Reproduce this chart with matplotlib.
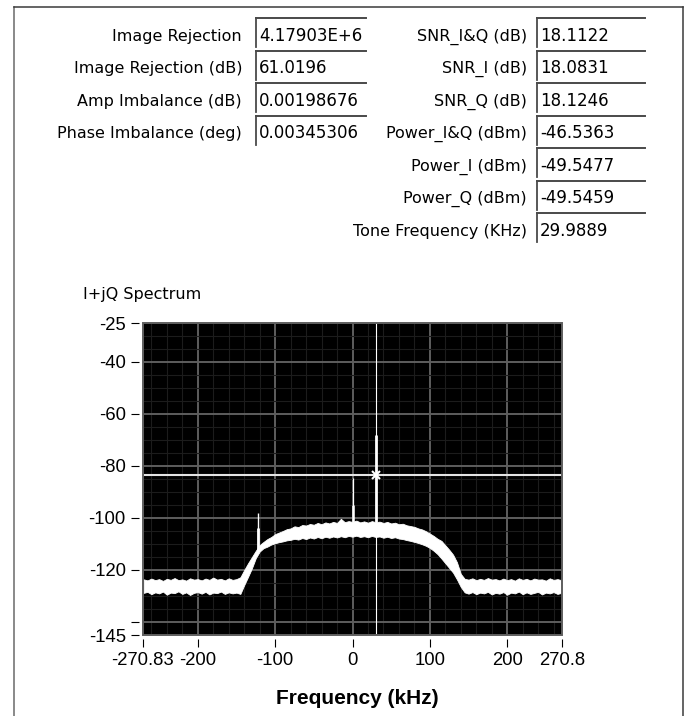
import numpy as np
import matplotlib
matplotlib.use("Agg")
from matplotlib import pyplot as plt
from matplotlib.lines import Line2D
from matplotlib.patches import Rectangle

W, H = 688, 716

# indicator panel
left_labels = ["Image Rejection", "Image Rejection (dB)", "Amp Imbalance (dB)",
               "Phase Imbalance (deg)"]
left_values = ["4.17903E+6", "61.0196", "0.00198676", "0.00345306"]
right_labels = ["SNR_I&Q (dB)", "SNR_I (dB)", "SNR_Q (dB)", "Power_I&Q (dBm)",
                "Power_I (dBm)", "Power_Q (dBm)", "Tone Frequency (KHz)"]
right_values = ["18.1122", "18.0831", "18.1246", "-46.5363", "-49.5477",
                "-49.5459", "29.9889"]

# spectrum: 5 kHz bins, upper and lower edge of the noise trace (dBm)
freq_khz = np.arange(-270, 275, 5)
noise_top = [
    -123.6, -124.0, -123.3, -123.9, -123.5, -124.2, -123.4, -123.8, -123.1, -123.9,
    -123.6, -124.1, -123.2, -123.7, -123.5, -124.0, -123.3, -123.8, -122.9, -123.7,
    -123.4, -124.0, -123.2, -123.8, -123.5,
    -122.8, -120.0, -117.4, -115.0, -112.6, -110.4, -109.2, -108.1, -107.3, -106.2,
    -105.6, -105.0, -104.3, -104.0, -103.2, -103.5, -102.7, -102.9, -102.3, -102.6,
    -101.9, -102.4, -101.7, -102.1, -101.5, -101.9, -100.3, -101.6, -101.2, -101.5,
    -101.0, -101.7, -101.3, -101.8, -101.2, -101.6, -101.4, -101.9, -101.5, -102.1,
    -101.8, -102.4, -102.2, -102.8, -103.1, -103.4, -104.0, -104.4, -105.1, -106.0,
    -106.9, -108.0, -108.8, -110.5, -112.2, -114.1, -117.0, -121.5, -123.4,
    -123.7, -123.2, -123.9, -123.4, -123.8, -123.1, -123.7, -123.5, -124.0, -123.3,
    -123.9, -123.5, -124.1, -123.2, -123.8, -123.4, -124.0, -123.3, -123.7, -123.6,
    -124.1, -123.2, -123.8, -123.5, -123.9,
]
noise_bottom = [
    -128.8, -128.4, -129.3, -128.6, -129.0, -128.3, -129.5, -128.7, -128.9, -128.2,
    -129.2, -128.6, -129.6, -128.8, -128.5, -129.1, -128.4, -129.4, -128.7, -128.9,
    -128.3, -129.2, -128.6, -129.0, -128.7,
    -129.2, -125.8, -122.6, -119.3, -115.4, -112.9, -111.6, -111.0, -110.2, -109.7,
    -109.3, -109.0, -108.6, -108.4, -108.0, -108.3, -107.7, -108.1, -107.5, -107.9,
    -107.3, -107.8, -107.2, -107.6, -107.1, -107.5, -107.0, -107.4, -106.9, -107.2,
    -106.8, -107.3, -107.0, -107.4, -106.9, -107.3, -107.1, -107.6, -107.2, -107.7,
    -107.4, -107.9, -108.1, -108.5, -108.8, -109.2, -109.6, -110.1, -110.7, -111.5,
    -112.6, -113.9, -115.6, -117.4, -119.2, -121.0, -123.6, -126.5, -128.6,
    -129.1, -128.5, -129.3, -128.7, -129.0, -128.4, -129.4, -128.8, -129.1, -128.5,
    -129.5, -128.7, -129.0, -128.3, -129.3, -128.6, -129.2, -128.8, -128.4, -129.4,
    -128.7, -129.0, -128.5, -129.2, -128.8,
]
# spurs: thin tip plus wider lower part
spur_khz = [-122.6, -122.6, 0.0, 0.0, 29.9889]
spur_dbm = [-98.0, -103.8, -84.5, -95.0, -68.0]
spur_width = [1.0, 2.0, 0.9, 1.8, 2.0]
cursor_khz = 29.9889
cursor_dbm = -83.3

x_ticks = [-270.83, -200, -100, 0, 100, 200, 270.83]
x_ticklabels = ["-270.83", "-200", "-100", "0", "100", "200", "270.8"]
y_ticks = [-25, -40, -60, -80, -100, -120, -140, -145]
y_ticklabels = ["-25", "-40", "-60", "-80", "-100", "-120", "", "-145"]


def fx(x):
    return x / W


def fy(y):
    return 1 - y / H


plt.rcParams['font.family'] = ['Liberation Sans', 'DejaVu Sans']
fig = plt.figure(figsize=(W / 100, H / 100), dpi=100)
fig.patch.set_facecolor("white")

# outer frame
fig.add_artist(Line2D([fx(13.5), fx(13.5)], [fy(7), fy(716)], color="#6a6a6a", lw=1.1))
fig.add_artist(Line2D([fx(13.5), fx(683)], [fy(7.3), fy(7.3)], color="#3a3a3a", lw=1.1))
fig.add_artist(Line2D([fx(683), fx(683)], [fy(7.3), fy(716)], color="#3a3a3a", lw=1.1))


def indicator(label, value, label_right, box_left, box_right, top):
    fig.text(fx(label_right), fy(top + 22.3), label, ha="right", va="baseline",
             fontsize=11.5, family="DejaVu Sans", color="black")
    fig.add_artist(Line2D([fx(box_left), fx(box_right)], [fy(top), fy(top)],
                          color="#4a4a4a", lw=1.4))
    fig.add_artist(Line2D([fx(box_left), fx(box_left)], [fy(top), fy(top + 29)],
                          color="#4a4a4a", lw=1.3))
    t = fig.text(fx(box_left + 3), fy(top + 22.3), value, ha="left", va="baseline",
                 fontsize=12, family="DejaVu Sans", color="black")
    clip = Rectangle((fx(box_left), fy(top + 29)), fx(box_right - box_left - 2),
                     29 / H, transform=fig.transFigure)
    t.set_clip_path(clip)


for i, (lab, val) in enumerate(zip(left_labels, left_values)):
    indicator(lab, val, 242, 256, 366, 18.3 + 32.5 * i)
for i, (lab, val) in enumerate(zip(right_labels, right_values)):
    indicator(lab, val, 527, 537, 645, 18.3 + 32.5 * i)

fig.text(fx(83), fy(299), "I+jQ Spectrum", ha="left", va="baseline",
         fontsize=11.5, family="DejaVu Sans")

# spectrum graph
ax = fig.add_axes([fx(143), fy(635), (562 - 143) / W, (635 - 323) / H])
ax.set_facecolor("black")
ax.set_xlim(-270.83, 270.83)
ax.set_ylim(-145, -25)

ax.set_xticks(x_ticks)
ax.set_xticklabels(x_ticklabels)
ax.set_yticks(y_ticks)
ax.set_yticklabels(y_ticklabels)
ax.set_xticks(np.arange(-260, 261, 20), minor=True)
ax.set_yticks(np.arange(-140, -25, 5), minor=True)
ax.grid(which="major", color="#5e5e5e", lw=1.4)
ax.grid(which="minor", color="#1c1c1c", lw=0.8)
ax.set_axisbelow(True)
ax.tick_params(which="major", length=6, width=0.8, color="black", pad=3.4,
               labelsize=13.3, labelcolor="black")
ax.tick_params(which="minor", length=0)
for side in ["left", "bottom"]:
    ax.spines[side].set_position(("outward", 3))
for s in ax.spines.values():
    s.set_visible(False)
ax.add_patch(Rectangle((0, 0), 1, 1, transform=ax.transAxes, fill=False,
                       ec="#5e5e5e", lw=1.4, clip_on=False, zorder=5))

ax.fill_between(freq_khz, noise_bottom, noise_top, facecolor="white", lw=0.6,
                edgecolor="white", zorder=3)
top_arr = np.array(noise_top)
for f, peak, w in zip(spur_khz, spur_dbm, spur_width):
    base = top_arr[np.argmin(np.abs(freq_khz - f))]
    ax.vlines(f, base, peak, colors="white", lw=w, zorder=4)

ax.axhline(cursor_dbm, color="#e4e4e4", lw=1.5, zorder=4)
ax.axvline(cursor_khz, color="white", lw=0.8, zorder=4)
ax.plot([cursor_khz], [cursor_dbm], marker="x", ms=6, mew=1.5, color="white", zorder=6)

fig.text(fx(357.5), fy(699), "Frequency (kHz)", ha="center", va="center",
         fontsize=15, fontweight="bold", family="Liberation Sans")

fig.savefig("out.png", dpi=100, facecolor="white")
